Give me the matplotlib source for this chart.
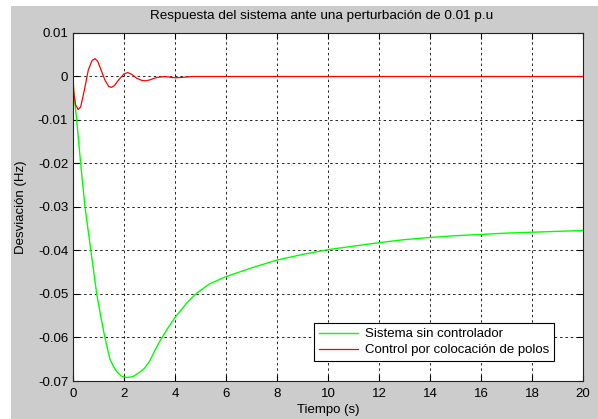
import matplotlib
matplotlib.use("Agg")
import matplotlib.pyplot as plt
from matplotlib.patches import Rectangle

# Data
t_green = [0, 0.02, 0.145, 0.3, 0.47, 0.7, 0.93, 1.1, 1.25, 1.45, 1.6, 1.71, 1.9, 2.1,
           2.35, 2.61, 2.8, 3.0, 3.2, 3.4, 3.7, 4.0, 4.47, 4.85, 5.35, 6.0, 7.0, 8.0,
           9.0, 10, 11, 12, 13, 14, 15, 16, 17, 18, 19, 20]
y_green = [0, -0.003, -0.01, -0.02, -0.03, -0.04, -0.05, -0.0555, -0.06, -0.065,
           -0.0668, -0.0678, -0.0689, -0.0692, -0.069, -0.068, -0.0671, -0.0655,
           -0.0631, -0.0609, -0.058, -0.0554, -0.052, -0.0498, -0.0477, -0.046,
           -0.044, -0.0422, -0.0409, -0.0398, -0.039, -0.0382, -0.0375, -0.037,
           -0.0366, -0.0363, -0.036, -0.0358, -0.0356, -0.0354]

t_red = [0, 0.03, 0.1, 0.2, 0.3, 0.45, 0.6, 0.75, 0.86, 0.97, 1.1, 1.25, 1.4, 1.5,
         1.62, 1.8, 2.0, 2.15, 2.3, 2.5, 2.7, 2.85, 3.0, 3.3, 3.6, 4.0, 4.3, 4.7, 20]
y_red = [0, -0.0035, -0.0065, -0.0076, -0.007, -0.003, 0.0015, 0.0037, 0.0041, 0.0035,
         0.0015, -0.0008, -0.0023, -0.0025, -0.0021, -0.0007, 0.0006, 0.0009, 0.0005,
         -0.0004, -0.0009, -0.001, -0.0008, -0.0002, 0.0, -0.0003, -0.0002, 0.0, 0.0]

x_ticks = [0, 2, 4, 6, 8, 10, 12, 14, 16, 18, 20]
y_ticks = [0.01, 0, -0.01, -0.02, -0.03, -0.04, -0.05, -0.06, -0.07]
y_tick_labels = ["0.01", "0", "-0.01", "-0.02", "-0.03", "-0.04", "-0.05", "-0.06", "-0.07"]

label_green = "Sistema sin controlador"
label_red = "Control por colocación de polos"
title = "Respuesta del sistema ante una perturbación de 0.01 p.u"
xlabel = "Tiempo (s)"
ylabel = "Desviación (Hz)"

plt.rcParams['font.family'] = ['Liberation Sans', 'DejaVu Sans']
plt.rcParams['font.size'] = 9.5

W, H = 598, 419
fig = plt.figure(figsize=(W / 100, H / 100), dpi=100, facecolor='#cccccc')
# white strips along the top and left edge of the image
fig.patches.append(Rectangle((0, 1 - 6 / H), 1, 6 / H, transform=fig.transFigure,
                             facecolor='white', edgecolor='none', zorder=-1))
fig.patches.append(Rectangle((0, 0), 11 / W, 1, transform=fig.transFigure,
                             facecolor='white', edgecolor='none', zorder=-1))

ax = fig.add_axes([73 / W, (H - 381) / H, 510 / W, 348 / H])
ax.set_facecolor('white')

ax.plot(t_green, y_green, color='#00ff00', lw=1.0, label=label_green)
ax.plot(t_red, y_red, color='#ff0000', lw=0.9, label=label_red)

ax.set_xlim(0, 20)
ax.set_ylim(-0.07, 0.01)
ax.set_xticks(x_ticks)
ax.set_yticks(y_ticks)
ax.set_yticklabels(y_tick_labels)
ax.grid(True, color='#222222', linestyle=(0, (2.5, 3)), linewidth=0.7)
ax.tick_params(direction='in', top=True, right=True, length=4, width=0.8, colors='black')
ax.tick_params(axis='x', pad=5)
ax.tick_params(axis='y', pad=3.5)
for s in ax.spines.values():
    s.set_linewidth(0.8)
    s.set_color('#222222')

ax.set_title(title, fontsize=9.7, pad=10, x=0.487)
ax.set_xlabel(xlabel, labelpad=3)
ax.set_ylabel(ylabel, labelpad=8)

leg = ax.legend(loc='lower right', bbox_to_anchor=(0.943, 0.0575), fancybox=False,
                framealpha=1, edgecolor='black', handlelength=3.0, handletextpad=0.5,
                borderpad=0.35, labelspacing=0.3, fontsize=9.5, borderaxespad=0)
leg.get_frame().set_linewidth(0.8)

fig.savefig("out.png", dpi=100, facecolor=fig.get_facecolor())
